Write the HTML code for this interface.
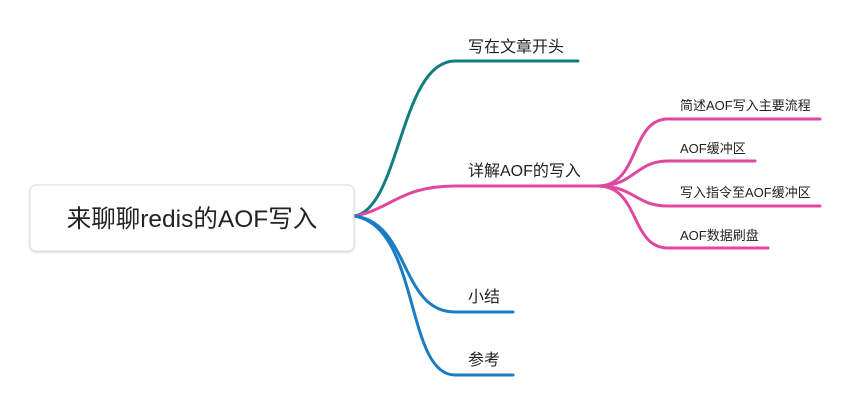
<!DOCTYPE html>
<html><head><meta charset="utf-8"><style>
body{margin:0;background:#fff;width:849px;height:407px;overflow:hidden}
svg{display:block}
text{font-family:"Liberation Sans","Noto Sans CJK SC",sans-serif;fill:#222}
</style></head><body>
<svg width="849" height="407" viewBox="0 0 849 407" xmlns="http://www.w3.org/2000/svg">
<defs><filter id="s" x="-10%" y="-10%" width="120%" height="130%"><feDropShadow dx="0" dy="1" stdDeviation="1" flood-color="#000" flood-opacity="0.18"/></filter></defs>
<g fill="none" stroke-width="3" stroke-linecap="round">
<path d="M354,216 C400,210 400,61 455,61 L578,61" stroke="#107e7e"/>
<path d="M354,216 C390,210 400,186 455,186 L598,186" stroke="#e0479e"/>
<path d="M354,216 C410,222 400,312 455,312 L513,312" stroke="#1a7dc4"/>
<path d="M354,216 C420,226 405,375 455,375 L513,375" stroke="#1a7dc4"/>
<path d="M598,186 C640,186 630,119 668,119 L820,119" stroke="#e0479e"/>
<path d="M598,186 C635,186 635,161 668,161 L755,161" stroke="#e0479e"/>
<path d="M598,186 C635,186 635,206 668,206 L820,206" stroke="#e0479e"/>
<path d="M598,186 C640,186 630,248 668,248 L768,248" stroke="#e0479e"/>
</g>
<rect x="30" y="185" width="324" height="66" rx="6" fill="#fff" stroke="#ddd" filter="url(#s)"/>
<text x="192" y="227" font-size="24.5" text-anchor="middle" fill="#333">来聊聊redis的AOF写入</text>
<g font-size="16">
<text x="468" y="52">写在文章开头</text>
<text x="468" y="176">详解AOF的写入</text>
<text x="468" y="302">小结</text>
<text x="468" y="365">参考</text>
</g>
<g font-size="13">
<text x="680" y="110">简述AOF写入主要流程</text>
<text x="680" y="153">AOF缓冲区</text>
<text x="680" y="197">写入指令至AOF缓冲区</text>
<text x="680" y="240">AOF数据刷盘</text>
</g>
</svg>
</body></html>
